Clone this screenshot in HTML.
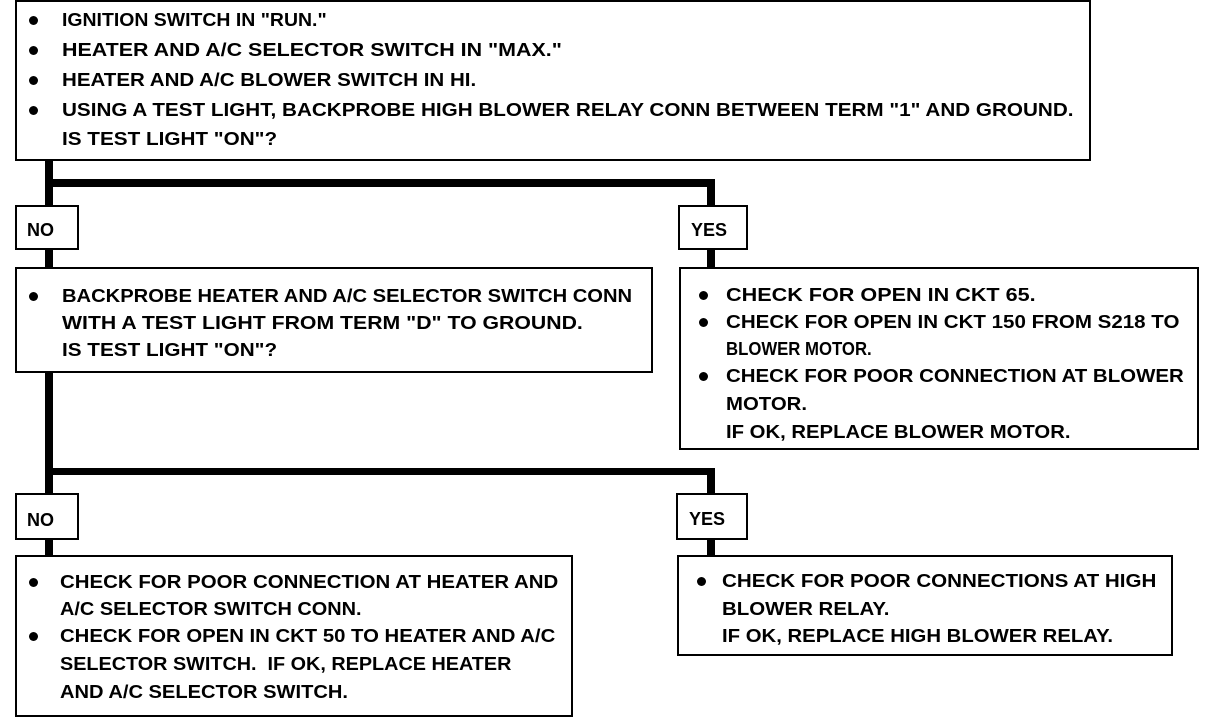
<!DOCTYPE html>
<html><head><meta charset="utf-8"><style>
body{margin:0;width:1216px;height:720px;background:#fff;position:relative;overflow:hidden;font-family:"Liberation Sans",sans-serif;font-weight:bold;font-size:18px;color:#000}
.b{position:absolute;border:2px solid #000;box-sizing:border-box;background:#fff}
.l{position:absolute;background:#000}
.t{position:absolute;white-space:nowrap;line-height:20px;transform-origin:left center}
.d{position:absolute;width:9px;height:9px;border-radius:50%;background:#000}
</style></head><body>
<div class="l" style="left:45px;top:158px;width:8px;height:400px"></div>
<div class="l" style="left:45px;top:179px;width:670px;height:8px"></div>
<div class="l" style="left:707px;top:179px;width:8px;height:92px"></div>
<div class="l" style="left:45px;top:468px;width:670px;height:7px"></div>
<div class="l" style="left:707px;top:468px;width:8px;height:90px"></div>
<div class="b" style="left:15px;top:0;width:1076px;height:161px"></div>
<div class="b" style="left:15px;top:205px;width:64px;height:45px"></div>
<div class="b" style="left:678px;top:205px;width:70px;height:45px"></div>
<div class="b" style="left:15px;top:267px;width:638px;height:106px"></div>
<div class="b" style="left:679px;top:267px;width:520px;height:183px"></div>
<div class="b" style="left:15px;top:493px;width:64px;height:47px"></div>
<div class="b" style="left:676px;top:493px;width:72px;height:47px"></div>
<div class="b" style="left:15px;top:555px;width:558px;height:162px"></div>
<div class="b" style="left:677px;top:555px;width:496px;height:101px"></div>

<div class="d" style="left:29px;top:16px"></div>
<div class="t" style="left:62px;top:10px;transform:scaleX(1.08)">IGNITION SWITCH IN "RUN."</div>
<div class="d" style="left:29px;top:46px"></div>
<div class="t" style="left:62px;top:40px;transform:scaleX(1.19)">HEATER AND A/C SELECTOR SWITCH IN "MAX."</div>
<div class="d" style="left:29px;top:76px"></div>
<div class="t" style="left:62px;top:70px;transform:scaleX(1.14)">HEATER AND A/C BLOWER SWITCH IN HI.</div>
<div class="d" style="left:29px;top:106px"></div>
<div class="t" style="left:62px;top:100px;transform:scaleX(1.148)">USING A TEST LIGHT, BACKPROBE HIGH BLOWER RELAY CONN BETWEEN TERM "1" AND GROUND.</div>
<div class="t" style="left:62px;top:129px;transform:scaleX(1.15)">IS TEST LIGHT "ON"?</div>
<div class="t" style="left:27px;top:220px">NO</div>
<div class="t" style="left:691px;top:220px">YES</div>

<div class="d" style="left:29px;top:292px"></div>
<div class="t" style="left:62px;top:286px;transform:scaleX(1.12)">BACKPROBE HEATER AND A/C SELECTOR SWITCH CONN</div>
<div class="t" style="left:62px;top:313px;transform:scaleX(1.18)">WITH A TEST LIGHT FROM TERM "D" TO GROUND.</div>
<div class="t" style="left:62px;top:340px;transform:scaleX(1.15)">IS TEST LIGHT "ON"?</div>

<div class="d" style="left:699px;top:291px"></div>
<div class="t" style="left:726px;top:285px;transform:scaleX(1.2)">CHECK FOR OPEN IN CKT 65.</div>
<div class="d" style="left:699px;top:318px"></div>
<div class="t" style="left:726px;top:312px;transform:scaleX(1.14)">CHECK FOR OPEN IN CKT 150 FROM S218 TO</div>
<div class="t" style="left:726px;top:339px;transform:scaleX(0.93)">BLOWER MOTOR.</div>
<div class="d" style="left:699px;top:372px"></div>
<div class="t" style="left:726px;top:366px;transform:scaleX(1.136)">CHECK FOR POOR CONNECTION AT BLOWER</div>
<div class="t" style="left:726px;top:394px;transform:scaleX(1.13)">MOTOR.</div>
<div class="t" style="left:726px;top:422px;transform:scaleX(1.127)">IF OK, REPLACE BLOWER MOTOR.</div>
<div class="t" style="left:27px;top:510px">NO</div>
<div class="t" style="left:689px;top:509px">YES</div>

<div class="d" style="left:29px;top:578px"></div>
<div class="t" style="left:60px;top:572px;transform:scaleX(1.135)">CHECK FOR POOR CONNECTION AT HEATER AND</div>
<div class="t" style="left:60px;top:599px;transform:scaleX(1.106)">A/C SELECTOR SWITCH CONN.</div>
<div class="d" style="left:29px;top:632px"></div>
<div class="t" style="left:60px;top:626px;transform:scaleX(1.128)">CHECK FOR OPEN IN CKT 50 TO HEATER AND A/C</div>
<div class="t" style="left:60px;top:654px;transform:scaleX(1.10)">SELECTOR SWITCH.&nbsp; IF OK, REPLACE HEATER</div>
<div class="t" style="left:60px;top:682px;transform:scaleX(1.116)">AND A/C SELECTOR SWITCH.</div>

<div class="d" style="left:697px;top:577px"></div>
<div class="t" style="left:722px;top:571px;transform:scaleX(1.143)">CHECK FOR POOR CONNECTIONS AT HIGH</div>
<div class="t" style="left:722px;top:599px;transform:scaleX(1.136)">BLOWER RELAY.</div>
<div class="t" style="left:722px;top:626px;transform:scaleX(1.129)">IF OK, REPLACE HIGH BLOWER RELAY.</div>
</body></html>
